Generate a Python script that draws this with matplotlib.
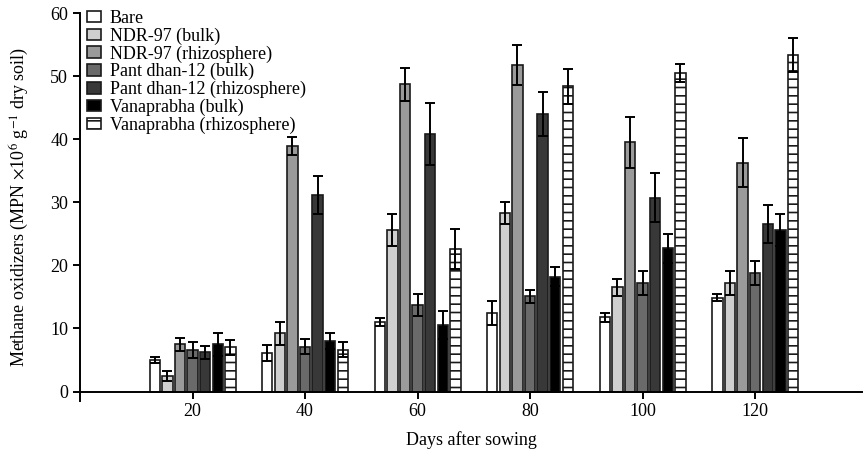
import matplotlib
matplotlib.use("Agg")
import matplotlib.pyplot as plt
import numpy as np

plt.rcParams['font.family'] = ['Liberation Serif', 'DejaVu Serif']
plt.rcParams['mathtext.fontset'] = 'stix'
plt.rcParams['hatch.linewidth'] = 1.2

days = [20, 40, 60, 80, 100, 120]
series = ["Bare", "NDR-97 (bulk)", "NDR-97 (rhizosphere)", "Pant dhan-12 (bulk)",
          "Pant dhan-12 (rhizosphere)", "Vanaprabha (bulk)", "Vanaprabha (rhizosphere)"]

bare = [5.0, 6.1, 11.0, 12.5, 11.8, 14.9]
ndr_bulk = [2.4, 9.2, 25.6, 28.3, 16.5, 17.2]
ndr_rhizo = [7.5, 38.9, 48.7, 51.8, 39.5, 36.3]
pant_bulk = [6.6, 7.1, 13.7, 15.1, 17.2, 18.8]
pant_rhizo = [6.2, 31.1, 40.8, 44.0, 30.7, 26.6]
vana_bulk = [7.5, 8.0, 10.5, 18.2, 22.7, 25.6]
vana_rhizo = [7.0, 6.6, 22.6, 48.4, 50.5, 53.3]

bare_err = [0.5, 1.3, 0.6, 1.9, 0.7, 0.6]
ndr_bulk_err = [0.8, 1.9, 2.5, 1.7, 1.3, 1.9]
ndr_rhizo_err = [1.0, 1.4, 2.6, 3.2, 4.0, 3.9]
pant_bulk_err = [1.3, 1.2, 1.7, 1.0, 1.9, 1.9]
pant_rhizo_err = [1.0, 3.0, 4.9, 3.5, 3.9, 3.0]
vana_bulk_err = [1.8, 1.2, 2.2, 1.5, 2.3, 2.5]
vana_rhizo_err = [1.2, 1.2, 3.2, 2.8, 1.4, 2.7]

values = [bare, ndr_bulk, ndr_rhizo, pant_bulk, pant_rhizo, vana_bulk, vana_rhizo]
errors = [bare_err, ndr_bulk_err, ndr_rhizo_err, pant_bulk_err, pant_rhizo_err,
          vana_bulk_err, vana_rhizo_err]
colors = ['#ffffff', '#cfcfcf', '#9a9a9a', '#6a6a6a', '#383838', '#000000', '#ffffff']
hatches = [None, None, None, None, None, None, '--']

fig = plt.figure(figsize=(8.63, 4.51), dpi=100)
ax = fig.add_axes([80/863, 1-401/451, (862-80)/863, (401-13)/451])

slot = 2.24
width = 1.85
x = np.array(days, dtype=float)
for i, (vals, errs, c, h, lab) in enumerate(zip(values, errors, colors, hatches, series)):
    pos = x + (i - 3) * slot
    ax.bar(pos, vals, width=width, color=c, edgecolor='#1a1a1a', linewidth=1.2,
           hatch=h, label=lab, zorder=2)
    ax.errorbar(pos, vals, yerr=errs, fmt='none', ecolor='black', elinewidth=1.4,
                capsize=3.8, capthick=1.4, zorder=3)

ax.set_xlim(0, 139)
ax.set_ylim(-1.5, 60)
ax.spines['top'].set_visible(False)
ax.spines['right'].set_visible(False)
ax.spines['bottom'].set_position(('data', 0))
ax.spines['left'].set_linewidth(1.4)
ax.spines['bottom'].set_linewidth(1.4)
ax.set_xticks(days)
ax.set_yticks([0, 10, 20, 30, 40, 50, 60])
ax.tick_params(axis='both', direction='out', length=5, width=1.4, labelsize=13)
ax.tick_params(axis='x', pad=3)
ax.set_xlabel('Days after sowing', fontsize=13, labelpad=8)
ax.set_ylabel(r'Methane oxidizers (MPN $\times$10$^6$ g$^{-1}$ dry soil)', fontsize=13, labelpad=14)

leg = ax.legend(loc='upper left', bbox_to_anchor=(0.009, 1.008), frameon=False,
                fontsize=13, handlelength=0.75, handleheight=0.6, handletextpad=0.5,
                labelspacing=0.03, borderpad=0, borderaxespad=0)

fig.savefig('out.png', dpi=100)
